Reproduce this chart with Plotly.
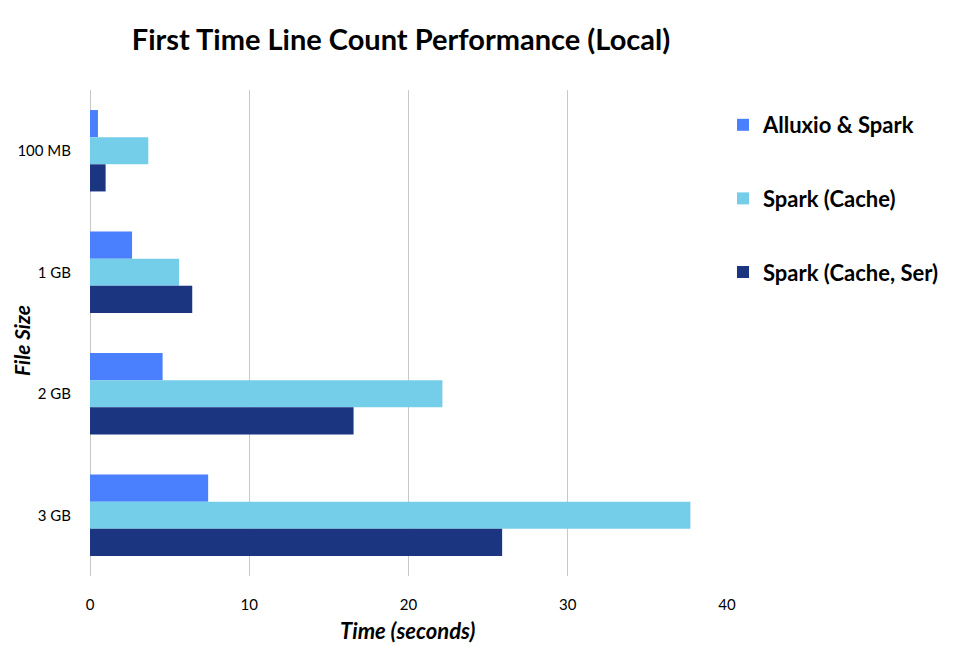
import plotly.graph_objects as go

categories = ["100 MB", "1 GB", "2 GB", "3 GB"]
alluxio_spark = [0.5, 2.64, 4.56, 7.42]
spark_cache = [3.66, 5.59, 22.13, 37.7]
spark_cache_ser = [0.98, 6.42, 16.55, 25.88]

series = [
    ("Alluxio & Spark", alluxio_spark, "#4A7FFE"),
    ("Spark (Cache)", spark_cache, "#75CEE9"),
    ("Spark (Cache, Ser)", spark_cache_ser, "#1B3580"),
]

FONT = "Lato, 'Open Sans', sans-serif"

W, H = 952, 646          # page body has an 8px margin
L, T = 82, 82
R = W - 719
B = H - 568
PW = W - L - R
PH = H - T - B

fig = go.Figure()
for i, (name, vals, color) in enumerate(series):
    fig.add_trace(go.Bar(
        y=categories, x=vals, name=f"<b>{name}</b>", orientation="h",
        marker=dict(color=color, line=dict(width=0)),
        legendgroup=f"g{i}",
    ))

fig.update_layout(
    width=W, height=H,
    paper_bgcolor="white", plot_bgcolor="white",
    margin=dict(l=L, r=R, t=T, b=B, autoexpand=False),
    barmode="group", bargap=0.33, bargroupgap=0,
    font=dict(family=FONT, color="#000", size=14),
    title=dict(text="<b>First Time Line Count Performance (Local)</b>",
               x=393/W, xref="container", xanchor="center",
               y=1 - 32/H, yref="container", yanchor="middle",
               font=dict(size=29, family=FONT, color="#000")),
    showlegend=True,
    legend=dict(x=1 - 4/PW, xref="paper", xanchor="left", y=1 - 14/PH, yanchor="top",
                traceorder="grouped", tracegroupgap=42,
                font=dict(size=22, family=FONT, color="#000"),
                itemwidth=30, bgcolor="rgba(0,0,0,0)"),
    xaxis=dict(range=[0, 40], tickvals=[0, 10, 20, 30, 40],
               showgrid=True, gridcolor="#c8c8c8", gridwidth=1,
               zeroline=True, zerolinecolor="#c8c8c8", zerolinewidth=1,
               showline=False, ticks="outside", ticklen=15, tickcolor="rgba(0,0,0,0)",
               tickfont=dict(size=15, family=FONT), title=None),
    yaxis=dict(autorange="reversed", showgrid=False, showline=False,
               ticks="outside", ticklen=15, tickcolor="rgba(0,0,0,0)",
               tickfont=dict(size=15, family=FONT)),
    annotations=[
        dict(text="<b><i>File Size</i></b>", x=-(82 - 13) / PW, xref="paper", xanchor="center",
             y=1 - (333 - 82) / PH, yref="paper", yanchor="middle",
             showarrow=False, textangle=-90, font=dict(size=21, family=FONT)),
        dict(text="<b><i>Time (seconds)</i></b>", x=(400 - L) / PW, xref="paper", xanchor="center",
             y=-(622 - 568) / PH, yref="paper", yanchor="middle",
             showarrow=False, font=dict(size=22, family=FONT)),
    ],
)

fig.write_html("out.html")
